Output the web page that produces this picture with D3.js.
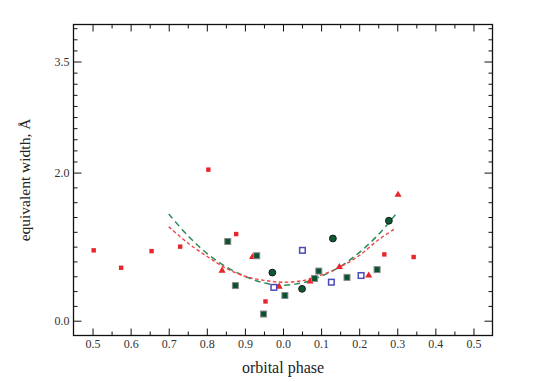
<!DOCTYPE html>
<html>
<head>
<meta charset="utf-8"/>
<title>Equivalent width vs orbital phase</title>
<script src="https://cdn.jsdelivr.net/npm/d3@7"></script>
<style>
  body { margin: 0; background: #fff; }
  svg text { font-family: "Liberation Serif", "DejaVu Serif", serif; }
  .domain { stroke: none; }
  .tick line { stroke: #111; stroke-width: 1; }
</style>
</head>
<body>
<div id="chart"></div>
<script>
// data: [phase (0.5 .. 1.5 = one cycle), EW in A]
var redSquares = [[0.503, 0.95], [0.575, 0.715], [0.655, 0.94], [0.730, 1.00], [0.804, 2.04],
                  [0.877, 1.17], [0.954, 0.26], [1.266, 0.895], [1.343, 0.86]];
var redTriangles = [[0.840, 0.675], [0.920, 0.86], [0.990, 0.46], [1.071, 0.53], [1.148, 0.725],
                    [1.225, 0.61], [1.302, 1.70]];
var greenSquares = [[0.855, 1.07], [0.875, 0.474], [0.931, 0.877], [0.949, 0.09], [1.005, 0.34],
                    [1.083, 0.57], [1.094, 0.67], [1.168, 0.585], [1.247, 0.69]];
var greenCircles = [[0.972, 0.65], [1.050, 0.43], [1.131, 1.11], [1.278, 1.35]];
var blueSquares = [[0.976, 0.45], [1.051, 0.95], [1.127, 0.52], [1.205, 0.61]];

// fitted curves
var greenFit = [[0.700, 1.44], [0.750, 1.15], [0.800, 0.91], [0.850, 0.73], [0.900, 0.60],
                [0.950, 0.51], [1.000, 0.48], [1.050, 0.51], [1.100, 0.60], [1.150, 0.73],
                [1.200, 0.92], [1.250, 1.16], [1.295, 1.43]];
var redFit = [[0.700, 1.27], [0.750, 1.05], [0.800, 0.87], [0.850, 0.71], [0.900, 0.60],
              [0.950, 0.545], [1.000, 0.52], [1.050, 0.54], [1.100, 0.615], [1.150, 0.725],
              [1.200, 0.88], [1.250, 1.09], [1.295, 1.245]];

var xMajor = [0.5, 0.6, 0.7, 0.8, 0.9, 1.0, 1.1, 1.2, 1.3, 1.4, 1.5];
var xMinor = [0.55, 0.65, 0.75, 0.85, 0.95, 1.05, 1.15, 1.25, 1.35, 1.45];
var yMajor = [0.0, 2.0, 3.5];
var yMinor = [0.2, 0.4, 0.6, 0.8, 1.0, 1.2, 1.4, 1.6, 1.8,
              2.15, 2.3, 2.45, 2.6, 2.75, 2.9, 3.05, 3.2, 3.35, 3.65, 3.8, 3.95];

var width = 540, height = 382;
var margin = {left: 73.5, right: 47.5, top: 24.5, bottom: 46.5};
var w = width - margin.left - margin.right,
    h = height - margin.top - margin.bottom;
var serif = "Liberation Serif, DejaVu Serif, serif";

var svg = d3.select("#chart").append("svg")
    .attr("width", width)
    .attr("height", height);

var g = svg.append("g")
    .attr("transform", "translate(" + margin.left + "," + margin.top + ")");

var x = d3.scaleLinear().domain([0.45, 1.55]).range([0, w]);
var y = d3.scaleLinear().domain([-0.2, 4.0]).range([h, 0]);

var phaseFmt = function(d) { return (Math.round(d * 10) % 10 / 10).toFixed(1); };

function styleAxis(sel) {
  sel.attr("font-family", serif).attr("font-size", 12);
  sel.selectAll(".tick text").attr("fill", "#333");
}

// axes, ticks pointing inwards on all four sides
g.append("g").attr("transform", "translate(0," + h + ")")
    .call(d3.axisBottom(x).tickValues(xMajor).tickSize(-7).tickPadding(4).tickFormat(phaseFmt))
    .call(styleAxis);
g.append("g").attr("transform", "translate(0," + h + ")")
    .call(d3.axisBottom(x).tickValues(xMinor).tickSize(-4).tickFormat(""));
g.append("g")
    .call(d3.axisTop(x).tickValues(xMajor).tickSize(-7).tickFormat(""));
g.append("g")
    .call(d3.axisTop(x).tickValues(xMinor).tickSize(-4).tickFormat(""));

g.append("g")
    .call(d3.axisLeft(y).tickValues(yMajor).tickSize(-8).tickPadding(4).tickFormat(d3.format(".1f")))
    .call(styleAxis);
g.append("g")
    .call(d3.axisLeft(y).tickValues(yMinor).tickSize(-4).tickFormat(""));
g.append("g").attr("transform", "translate(" + w + ",0)")
    .call(d3.axisRight(y).tickValues(yMajor).tickSize(-8).tickFormat(""));
g.append("g").attr("transform", "translate(" + w + ",0)")
    .call(d3.axisRight(y).tickValues(yMinor).tickSize(-4).tickFormat(""));

g.append("rect")
    .attr("width", w).attr("height", h)
    .attr("fill", "none").attr("stroke", "#111").attr("stroke-width", 1.3);

// fits
var line = d3.line()
    .x(function(d) { return x(d[0]); })
    .y(function(d) { return y(d[1]); })
    .curve(d3.curveCatmullRom);

g.append("path").datum(greenFit)
    .attr("d", line).attr("fill", "none")
    .attr("stroke", "#2e8b57").attr("stroke-width", 1.5)
    .attr("stroke-dasharray", "6,4");
g.append("path").datum(redFit)
    .attr("d", line).attr("fill", "none")
    .attr("stroke", "#f04545").attr("stroke-width", 1.4)
    .attr("stroke-dasharray", "3.5,2.5");

// markers
g.selectAll(".rsq").data(redSquares).enter().append("rect")
    .attr("x", function(d) { return x(d[0]) - 2.2; })
    .attr("y", function(d) { return y(d[1]) - 2.2; })
    .attr("width", 4.4).attr("height", 4.4)
    .attr("fill", "#e8262a");

var tri = d3.symbol().type(d3.symbolTriangle).size(22);
g.selectAll(".rtri").data(redTriangles).enter().append("path")
    .attr("d", tri)
    .attr("transform", function(d) { return "translate(" + x(d[0]) + "," + y(d[1]) + ")"; })
    .attr("fill", "#e8262a");

g.selectAll(".gsq").data(greenSquares).enter().append("rect")
    .attr("x", function(d) { return x(d[0]) - 3; })
    .attr("y", function(d) { return y(d[1]) - 3; })
    .attr("width", 6).attr("height", 6)
    .attr("fill", "#0b5230").attr("stroke", "#8a8a8a").attr("stroke-width", 1);

g.selectAll(".gci").data(greenCircles).enter().append("circle")
    .attr("cx", function(d) { return x(d[0]); })
    .attr("cy", function(d) { return y(d[1]); })
    .attr("r", 3.4)
    .attr("fill", "#0c5a34").attr("stroke", "#1a1a1a").attr("stroke-width", 1);

g.selectAll(".bsq").data(blueSquares).enter().append("rect")
    .attr("x", function(d) { return x(d[0]) - 2.8; })
    .attr("y", function(d) { return y(d[1]) - 2.8; })
    .attr("width", 5.6).attr("height", 5.6)
    .attr("fill", "#fff").attr("stroke", "#4a4ab8").attr("stroke-width", 1.5);

// axis titles
svg.append("text")
    .attr("x", margin.left + w / 2).attr("y", 373)
    .attr("text-anchor", "middle")
    .attr("font-size", 16).attr("fill", "#222")
    .text("orbital phase");

svg.append("text")
    .attr("transform", "translate(30," + (margin.top + h / 2) + ") rotate(-90)")
    .attr("text-anchor", "middle")
    .attr("font-size", 15.5).attr("fill", "#222")
    .text("equivalent width, Å");
</script>
</body>
</html>
